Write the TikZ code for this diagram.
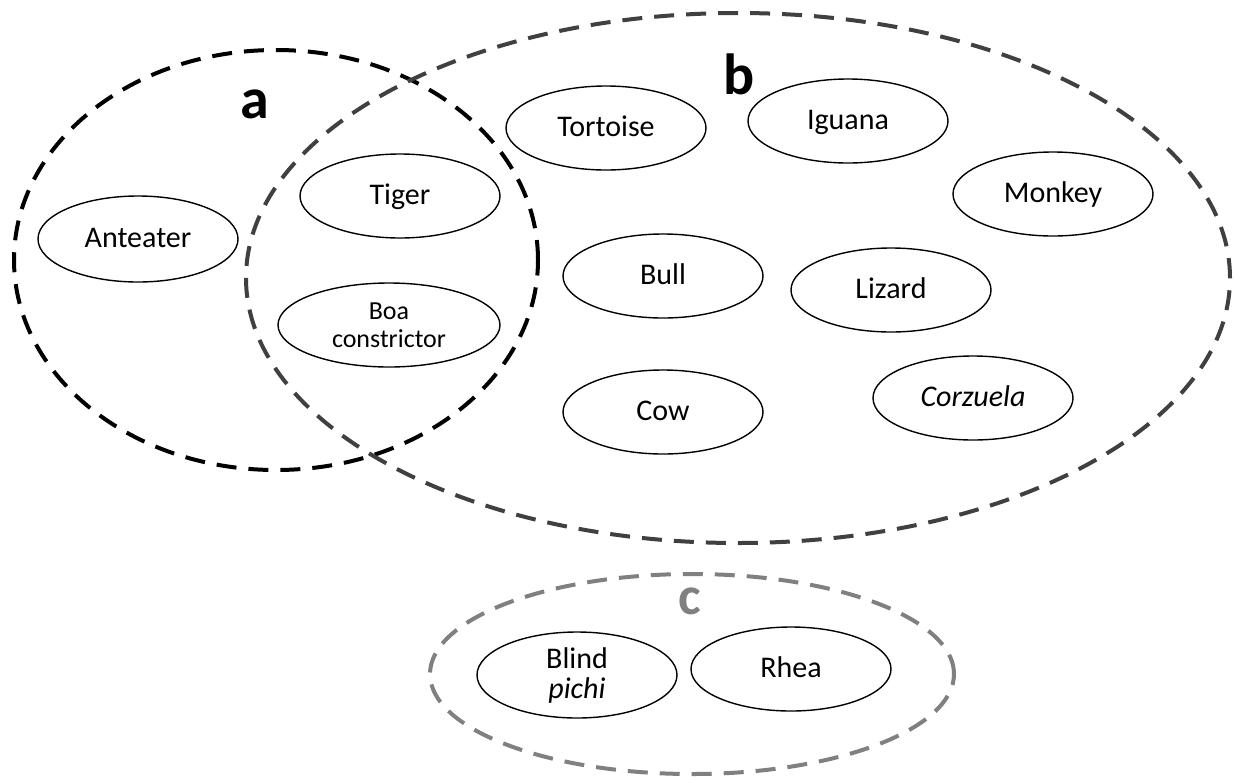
\documentclass[tikz,border=0pt]{standalone}
\usepackage{fontspec}
\setmainfont{Carlito}
\usetikzlibrary{shapes.geometric}
\begin{document}
\begin{tikzpicture}[x=0.5pt,y=-0.5pt,
  animal/.style={ellipse,draw,line width=0.7pt,inner sep=0pt,minimum width=100pt,minimum height=42pt,font=\fontsize{15pt}{14pt}\selectfont,align=center},
  oneline/.style={animal,text height=10pt,text depth=1.5pt},
  setring/.style={ellipse,draw,line width=2pt,inner sep=0pt,dash pattern=on 10pt off 6pt},
  setlabel/.style={font=\bfseries\fontsize{29pt}{29pt}\selectfont,inner sep=0pt}]
\useasboundingbox (0,0) rectangle (1237,777);
\fill[white] (0,0) rectangle (1237,777);
% set rings
\node[setring,draw=black,minimum width=262pt,minimum height=210pt] (ringa) at (276,260) {};
\node[setring,draw=black!75,minimum width=492pt,minimum height=265pt] (ringb) at (738,278) {};
\node[setring,draw=black!50,minimum width=262pt,minimum height=100pt] (ringc) at (692,674) {};
% labels
\node[setlabel] (la) at (255,104) {a};
\node[setlabel] (lb) at (739,74) {b};
\node[setlabel,text=black!50,font=\bfseries\fontsize{27pt}{27pt}\selectfont] (lc) at (690,601) {c};
% animals
\node[oneline,minimum height=43pt] (anteater) at (138,239) {Anteater};
\node[oneline] (tiger) at (400,196) {Tiger};
\node[animal,minimum width=111pt,font=\fontsize{13pt}{14pt}\selectfont] (boa) at (389,325) {Boa\\constrictor};
\node[oneline] (tortoise) at (606,128) {Tortoise};
\node[oneline] (iguana) at (848,121) {Iguana};
\node[oneline] (monkey) at (1053,194) {Monkey};
\node[oneline] (bull) at (663,276) {Bull};
\node[oneline] (lizard) at (891,290) {Lizard};
\node[oneline] (cow) at (663,412) {Cow};
\node[oneline] (corzuela) at (973,398) {\itshape Corzuela};
\node[animal,minimum height=43pt,font=\fontsize{15pt}{15pt}\selectfont] (pichi) at (577,675) {Blind\\\itshape pichi};
\node[oneline] (rhea) at (791,669) {Rhea};
\end{tikzpicture}
\end{document}
